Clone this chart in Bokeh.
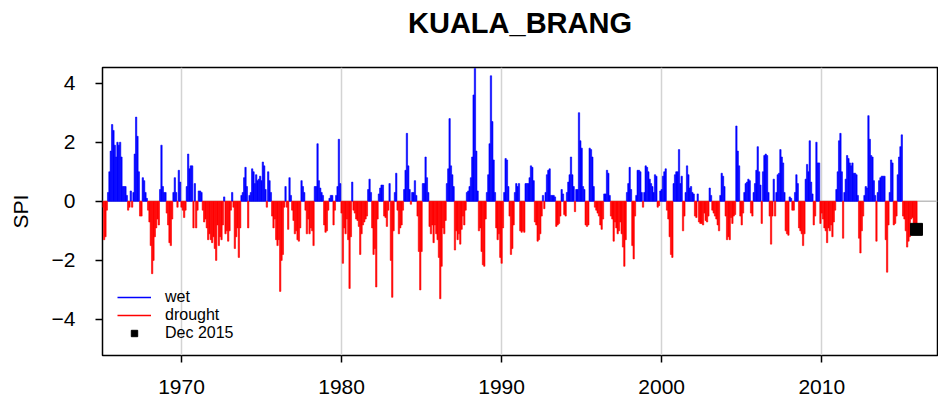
from bokeh.plotting import figure
from bokeh.models import (ColumnDataSource, Range1d, FixedTicker, Span, Legend,
                          LegendItem, Title)
from bokeh.embed import file_html
from bokeh.resources import INLINE

station = "KUALA_BRANG"
start_year = 1965
marker_label = "Dec 2015"
x_ticks = [1970, 1980, 1990, 2000, 2010]
y_ticks = [-4, -2, 0, 2, 4]

# monthly SPI values (Jan 1965 .. Dec 2015)
spi_1965_1969 = [
    0.0, -0.2, -1.3, -1.2, -0.3, 0.3, 1.0, 1.7, 2.6, 2.4, 1.9, 1.5,
    2.0, 1.9, 2.0, 1.5, 0.5, 0.5, 0.5, 0.2, -0.3, -0.2, 0.35, -0.2,
    0.3, 1.6, 2.85, 2.2, 1.0, -0.5, -0.5, 0.8, 0.7, 0.3, 0.1, -0.3,
    -0.7, -1.5, -2.45, -2.0, -1.2, -0.9, -0.6, -0.8, 0.4, 1.9, 0.5, 0.3,
    0.3, -0.4, -0.8, -1.4, -1.5, -0.6, 0.3, 0.8, 0.3, -0.2, 1.05, 0.65,
]
spi_1970s = [
    -0.2, -0.3, -0.55, -0.3, 0.5, 1.6, 1.1, 1.2, 1.2, -0.9, 0.6, -0.9,
    -0.3, 0.35, 0.35, 0.3, -0.3, -0.7, -0.6, -0.9, -1.3, -1.1, -1.3, -1.4,
    -1.2, -1.6, -2.0, -0.8, -1.5, -1.2, -1.3, -0.8, 0.15, -1.1, -1.0, -1.35,
    -1.0, -0.3, 0.3, -0.2, -1.6, -1.2, -0.9, -1.9, -0.9, 0.2, 0.3, 0.8,
    1.15, 0.5, -0.9, 0.2, 0.3, 1.1, 1.0, 0.6, 0.9, 0.7, 0.75, 0.85,
    0.7, 1.33, 1.2, 0.4, -0.2, 1.0, 0.7, 0.3, -0.5, -0.9, -0.6, -1.3,
    -1.5, -1.3, -3.05, -2.0, -1.8, -0.2, 0.5, -0.2, -0.95, 0.8, 0.2, -0.3,
    -0.65, -1.1, -1.0, -1.3, -1.35, -0.9, 0.7, 0.5, 0.3, -0.3, -1.1, -0.6,
    -1.1, -0.9, -1.0, -1.5, 0.5, 0.5, 1.95, 0.7, 0.45, 0.3, 0.2, -0.8,
    -1.05, -1.0, -0.3, 0.1, 0.2, 0.2, -0.8, -0.3, 0.2, 0.5, 2.1, 0.6,
]
spi_1980s = [
    -0.4, -2.1, -0.9, -1.1, -0.6, -1.3, -2.95, -1.2, 0.65, -0.3, -0.4, -0.6,
    -0.65, -0.85, -1.8, -1.1, -0.8, -0.7, -0.6, -0.5, 0.4, 0.75, 0.3, -0.9,
    -1.8, -1.6, -2.9, -0.6, 0.25, 0.45, 0.55, 0.55, -0.5, -0.55, -0.85, -0.3,
    0.6, -2.0, -3.25, -1.0, 0.3, 0.95, -0.3, -1.1, -0.9, -0.8, -0.3, 0.4,
    1.05, 2.3, 1.2, 0.4, -0.1, 0.3, 0.3, 0.7, 0.2, -0.5, -1.7, -3.0,
    -1.7, 0.6, 0.6, 1.5, 0.8, 0.3, -0.85, -1.1, -0.8, -1.4, -0.8, -1.1,
    -1.3, -1.9, -3.3, -2.2, -0.9, -1.1, -0.65, 0.6, 1.1, 2.8, 1.2, 0.9,
    0.5, -1.65, -1.0, -1.3, -1.1, -1.45, -0.95, -0.5, -0.8, -0.3, 0.3, 0.35,
    0.5, 0.8, 1.5, 3.6, 4.5, 1.7, 0.35, -1.0, -0.9, -1.7, -2.15, -2.2,
    -0.6, 0.3, 0.9, 1.95, 4.25, 2.7, 1.4, 0.3, -0.9, -1.3, -1.1, -1.9,
]
spi_1990s = [
    -2.1, -0.9, 0.3, 1.45, 1.4, 0.5, -0.5, -1.8, -1.6, -0.8, 0.3, 0.6,
    0.5, 0.6, -1.0, -1.05, -1.0, -1.05, 0.6, 0.6, 0.6, 0.8, 1.2, 1.15,
    0.7, -0.7, -0.8, -1.35, -1.3, -1.1, -0.5, 0.2, -0.25, 0.3, 0.9, 1.05,
    1.1, 0.2, 0.2, 0.2, 0.15, -0.85, -0.8, -0.75, -0.5, 0.4, 0.25, -0.45,
    -0.5, 0.3, 0.65, 0.9, 1.5, 0.9, 0.5, -0.35, 0.4, 0.4, 3.0, 2.05,
    1.8, 0.5, 0.4, -0.8, -0.85, -0.8, 1.8, 1.75, 1.5, 0.5, -0.2, -0.3,
    -0.4, -0.5, -0.8, -0.95, -0.6, 0.25, 0.25, 1.05, 0.95, 0.2, -0.5, -0.6,
    -1.35, -0.7, -0.9, -1.1, -1.0, -0.7, -1.1, -1.55, -2.2, -1.3, 0.3, 0.6,
    1.15, 0.4, -1.5, -1.95, -0.5, 0.2, 1.05, 1.05, 1.0, 0.3, -0.2, 0.3,
    1.2, 1.15, 1.0, 0.75, 0.6, 0.5, 0.3, 0.9, 0.85, -0.2, -0.15, 0.35,
]
spi_2000s = [
    0.4, 0.85, 1.0, 1.1, -0.3, -0.6, -1.2, -1.8, -1.9, 0.6, 0.9, 1.0,
    1.0, 1.75, 0.6, 0.85, -1.0, -0.5, 0.3, 1.2, 0.9, 0.45, 0.5, 0.3,
    0.25, -0.5, -0.55, 0.25, -0.7, -0.75, -0.75, -0.8, -0.4, -0.65, -0.7, -0.5,
    0.45, 0.2, -0.3, -0.4, -0.5, -0.6, -0.8, -1.0, 0.2, 0.95, 0.85, 0.5,
    -0.5, -1.3, -1.2, -1.3, -0.55, -0.75, -0.5, -0.45, 2.55, 1.7, 1.2, -0.5,
    -0.8, -0.4, 0.3, 0.6, 0.65, 0.75, 0.7, -0.4, -0.5, 0.3, 0.6, 1.05,
    1.85, 1.0, 0.55, -0.75, 1.0, 1.55, 1.6, 1.55, 0.3, -0.5, -1.45, -0.5,
    0.75, -0.5, 0.3, 0.9, 0.95, 1.75, 1.5, 1.3, 0.3, -1.0, -1.1, -1.15,
    0.15, 0.1, -0.3, -0.3, 0.3, 0.9, 0.6, -0.9, -1.0, -1.1, -1.5, -1.1,
    0.75, 1.25, 1.0, 2.05, 0.65, 0.25, -0.8, -0.5, 2.0, 1.3, 1.3, -0.75,
]
spi_2010_2015 = [
    -0.4, -0.6, -0.9, -1.0, -1.4, -0.9, -1.0, -0.8, -1.2, -0.7, -0.3, 0.4,
    1.0, 2.05, 2.3, 1.0, -1.25, 0.3, 0.75, 1.55, 1.45, 1.3, 1.2, 1.3,
    0.95, 0.95, 0.9, 0.2, -1.25, -1.75, -1.0, -0.5, 0.2, 0.5, 0.45, 2.9,
    2.1, 1.55, 1.5, 0.7, 0.2, -1.35, 0.3, 0.7, 0.8, 0.85, 0.85, 0.85,
    -1.3, -2.4, -0.8, 0.3, 1.4, 1.3, -0.8, -0.75, -0.5, 0.9, 1.5, 1.85,
    2.25, -0.5, -0.6, -1.0, -1.55, -1.35, -1.2, -0.6, -0.55, -0.9, -0.9, -0.95,
]

spi = (spi_1965_1969 + spi_1970s + spi_1980s + spi_1990s + spi_2000s
       + spi_2010_2015)
t = [start_year + i / 12.0 for i in range(len(spi))]

wet = ColumnDataSource(dict(x=[a for a, v in zip(t, spi) if v >= 0],
                            top=[v for v in spi if v >= 0]))
dry = ColumnDataSource(dict(x=[a for a, v in zip(t, spi) if v < 0],
                            top=[v for v in spi if v < 0]))
last = ColumnDataSource(dict(x=[t[-1]], y=[spi[-1]]))

FONT = "Liberation Sans"
NAN = float("nan")

p = figure(frame_width=835, frame_height=288,
           min_border_left=102, min_border_right=1,
           min_border_top=0, min_border_bottom=51,
           x_range=Range1d(1965.065, 2017.23), y_range=Range1d(-5.22, 4.53),
           output_backend="svg", toolbar_location=None,
           background_fill_color="white", border_fill_color="white")

xax = p.below[0]
yax = p.left[0]

# blank spacer panel between the frame and the main title
p.add_layout(Title(text=" ", text_font_size="2px", text_color="white",
                   standoff=21), "above")

p.title.text = station
p.title.align = "center"
p.title.text_font = FONT
p.title.text_font_size = "29px"
p.title.text_font_style = "bold"
p.title.text_color = "black"
p.title.standoff = 8

p.outline_line_color = "black"
p.outline_line_width = 1.5

p.xgrid.ticker = FixedTicker(ticks=x_ticks)
p.xgrid.grid_line_color = "#d3d3d3"
p.xgrid.grid_line_width = 1.5
p.ygrid.visible = False

p.add_layout(Span(location=0, dimension="width", line_color="#bebebe",
                  line_width=1.5, level="underlay"))

p.vbar(x="x", top="top", bottom=0, width=1 / 12, source=wet,
       fill_color="#0000ff", line_color="#0000ff", line_width=0.6)
p.vbar(x="x", top="top", bottom=0, width=1 / 12, source=dry,
       fill_color="#ff0000", line_color="#ff0000", line_width=0.6)
sq = p.scatter(x="x", y="y", source=last, marker="square", size=12,
               fill_color="black", line_color="black")

# legend proxies (nothing visible in the plot)
wet_line = p.line(x=[NAN, NAN], y=[NAN, NAN], line_color="#0000ff",
                  line_width=1.5)
dry_line = p.line(x=[NAN, NAN], y=[NAN, NAN], line_color="#ff0000",
                  line_width=1.5)

legend = Legend(items=[LegendItem(label="wet", renderers=[wet_line]),
                       LegendItem(label="drought", renderers=[dry_line]),
                       LegendItem(label=marker_label, renderers=[sq])],
                location=(15, 13), orientation="vertical",
                border_line_color=None, background_fill_alpha=0,
                padding=0, margin=0, spacing=0,
                glyph_width=34, glyph_height=16, label_height=16,
                label_standoff=14,
                label_text_font=FONT, label_text_font_size="16px",
                label_text_color="black")
p.add_layout(legend, "center")

for ax in (xax, yax):
    ax.axis_line_color = None
    ax.major_tick_line_color = "black"
    ax.major_tick_line_width = 1.5
    ax.major_tick_out = 7
    ax.major_tick_in = 0
    ax.minor_tick_line_color = None
    ax.major_label_text_font = FONT
    ax.major_label_text_font_size = "21px"
    ax.major_label_text_color = "black"

xax.ticker = FixedTicker(ticks=x_ticks)
xax.major_label_standoff = 17
yax.ticker = FixedTicker(ticks=y_ticks)
yax.major_label_orientation = "horizontal"
yax.major_label_standoff = 20
yax.axis_label = "SPI"
yax.axis_label_text_font = FONT
yax.axis_label_text_font_size = "21px"
yax.axis_label_text_font_style = "normal"
yax.axis_label_text_color = "black"
yax.axis_label_standoff = 17

open("out.html", "w").write(file_html(p, INLINE))
